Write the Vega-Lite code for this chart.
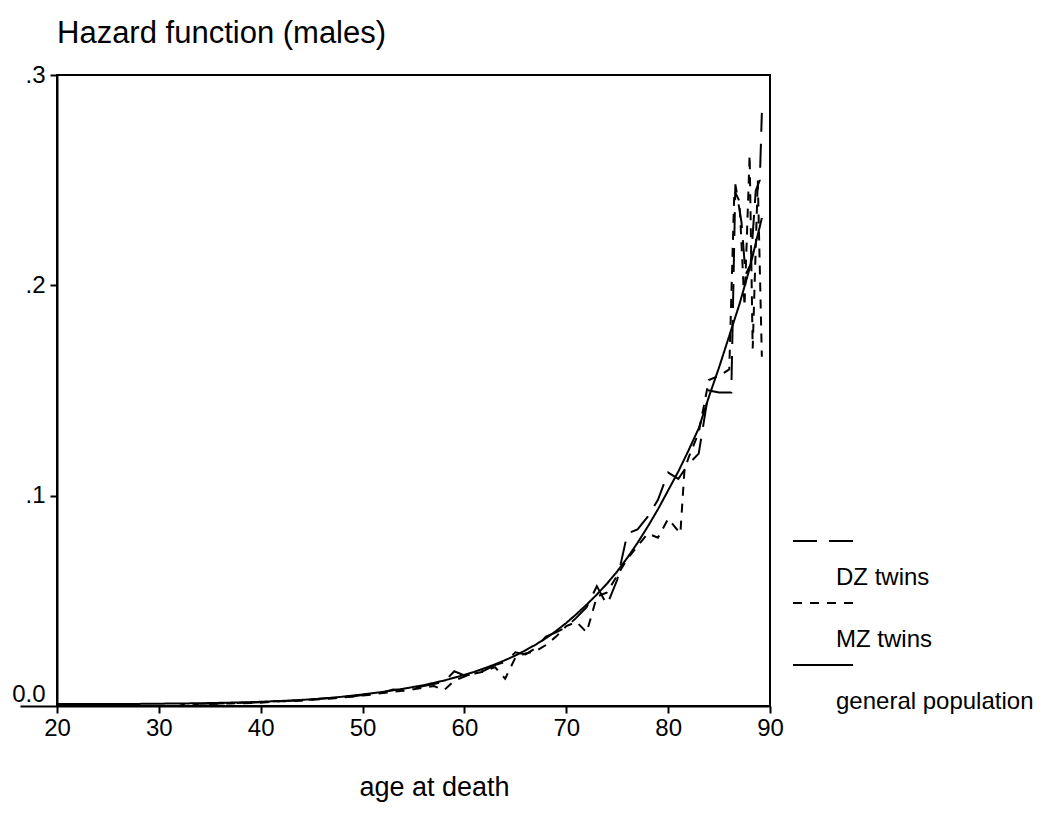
{
  "$schema": "https://vega.github.io/schema/vega-lite/v6.json",
  "width": 713,
  "height": 631,
  "autosize": {"type": "none"},
  "padding": {"left": 57, "top": 75, "right": 276, "bottom": 122},
  "background": "white",
  "title": {"text": "Hazard function (males)", "anchor": "start", "frame": "group", "font": "Liberation Sans", "fontSize": 31, "fontWeight": "normal", "color": "black", "offset": 13},
  "config": {
    "view": {"stroke": "black", "strokeWidth": 2},
    "axis": {"domainColor": "black", "domainWidth": 2, "tickColor": "black", "tickWidth": 2, "labelColor": "black", "labelFont": "Liberation Sans", "labelFontSize": 24, "titleFont": "Liberation Sans", "titleFontWeight": "normal", "titleColor": "black", "grid": false}
  },
  "data": {"values": [
    {"series":"general population","age":20,"h":0.0009},{"series":"general population","age":22,"h":0.0009},{"series":"general population","age":24,"h":0.0009},{"series":"general population","age":26,"h":0.0009},{"series":"general population","age":28,"h":0.0010},{"series":"general population","age":30,"h":0.0011},{"series":"general population","age":32,"h":0.0012},{"series":"general population","age":34,"h":0.0013},{"series":"general population","age":36,"h":0.0015},{"series":"general population","age":38,"h":0.0017},{"series":"general population","age":40,"h":0.0020},{"series":"general population","age":42,"h":0.0024},{"series":"general population","age":44,"h":0.0029},{"series":"general population","age":46,"h":0.0035},{"series":"general population","age":48,"h":0.0044},{"series":"general population","age":50,"h":0.0055},{"series":"general population","age":52,"h":0.0067},{"series":"general population","age":54,"h":0.0082},{"series":"general population","age":56,"h":0.0099},{"series":"general population","age":58,"h":0.0121},{"series":"general population","age":60,"h":0.0148},{"series":"general population","age":61,"h":0.0163},{"series":"general population","age":62,"h":0.0180},{"series":"general population","age":63,"h":0.0198},{"series":"general population","age":64,"h":0.0218},{"series":"general population","age":65,"h":0.0240},{"series":"general population","age":66,"h":0.0265},{"series":"general population","age":67,"h":0.0292},{"series":"general population","age":68,"h":0.0322},{"series":"general population","age":69,"h":0.0357},{"series":"general population","age":70,"h":0.0395},{"series":"general population","age":71,"h":0.0437},{"series":"general population","age":72,"h":0.0482},{"series":"general population","age":73,"h":0.0530},{"series":"general population","age":74,"h":0.0582},{"series":"general population","age":75,"h":0.0640},{"series":"general population","age":76,"h":0.0705},{"series":"general population","age":77,"h":0.0776},{"series":"general population","age":78,"h":0.0853},{"series":"general population","age":79,"h":0.0935},{"series":"general population","age":80,"h":0.1025},{"series":"general population","age":81,"h":0.1115},{"series":"general population","age":82,"h":0.1215},{"series":"general population","age":83,"h":0.1320},{"series":"general population","age":84,"h":0.1470},{"series":"general population","age":85,"h":0.1610},{"series":"general population","age":86,"h":0.1760},{"series":"general population","age":87,"h":0.1910},{"series":"general population","age":88,"h":0.2080},{"series":"general population","age":89.2,"h":0.2320},

    {"series":"DZ twins","age":20,"h":0},{"series":"DZ twins","age":33,"h":0},{"series":"DZ twins","age":34,"h":0.0010},{"series":"DZ twins","age":35,"h":0.0012},{"series":"DZ twins","age":36,"h":0.0012},{"series":"DZ twins","age":37,"h":0.0014},{"series":"DZ twins","age":38,"h":0.0015},{"series":"DZ twins","age":39,"h":0.0016},{"series":"DZ twins","age":40,"h":0.0018},{"series":"DZ twins","age":41,"h":0.0022},{"series":"DZ twins","age":42,"h":0.0024},{"series":"DZ twins","age":43,"h":0.0025},{"series":"DZ twins","age":44,"h":0.0028},{"series":"DZ twins","age":45,"h":0.0031},{"series":"DZ twins","age":46,"h":0.0036},{"series":"DZ twins","age":47,"h":0.0038},{"series":"DZ twins","age":48,"h":0.0042},{"series":"DZ twins","age":49,"h":0.0045},{"series":"DZ twins","age":50,"h":0.0052},{"series":"DZ twins","age":51,"h":0.0060},{"series":"DZ twins","age":52,"h":0.0064},{"series":"DZ twins","age":53,"h":0.0078},{"series":"DZ twins","age":54,"h":0.0075},{"series":"DZ twins","age":55,"h":0.0085},{"series":"DZ twins","age":56,"h":0.0095},{"series":"DZ twins","age":57,"h":0.0105},{"series":"DZ twins","age":58,"h":0.0115},{"series":"DZ twins","age":59,"h":0.0165},{"series":"DZ twins","age":60,"h":0.0145},{"series":"DZ twins","age":61,"h":0.0150},{"series":"DZ twins","age":62,"h":0.0170},{"series":"DZ twins","age":63,"h":0.0195},{"series":"DZ twins","age":64,"h":0.0210},{"series":"DZ twins","age":65,"h":0.0255},{"series":"DZ twins","age":66,"h":0.0245},{"series":"DZ twins","age":67,"h":0.0275},{"series":"DZ twins","age":68,"h":0.0330},{"series":"DZ twins","age":69,"h":0.0350},{"series":"DZ twins","age":70,"h":0.0375},{"series":"DZ twins","age":71,"h":0.0420},{"series":"DZ twins","age":72,"h":0.0470},{"series":"DZ twins","age":73,"h":0.0570},{"series":"DZ twins","age":74,"h":0.0480},{"series":"DZ twins","age":75,"h":0.0600},{"series":"DZ twins","age":76,"h":0.0820},{"series":"DZ twins","age":77,"h":0.0840},{"series":"DZ twins","age":78,"h":0.0900},{"series":"DZ twins","age":79,"h":0.0980},{"series":"DZ twins","age":80,"h":0.1110},{"series":"DZ twins","age":81,"h":0.1080},{"series":"DZ twins","age":82,"h":0.1150},{"series":"DZ twins","age":83,"h":0.1200},{"series":"DZ twins","age":84,"h":0.1500},{"series":"DZ twins","age":85,"h":0.1490},{"series":"DZ twins","age":86.2,"h":0.1490},{"series":"DZ twins","age":86.6,"h":0.2480},{"series":"DZ twins","age":87.2,"h":0.2300},{"series":"DZ twins","age":87.6,"h":0.2050},{"series":"DZ twins","age":88.1,"h":0.2100},{"series":"DZ twins","age":88.6,"h":0.2450},{"series":"DZ twins","age":89,"h":0.2500},{"series":"DZ twins","age":89.2,"h":0.2820},

    {"series":"MZ twins","age":20,"h":0},{"series":"MZ twins","age":32,"h":0},{"series":"MZ twins","age":33,"h":0.0015},{"series":"MZ twins","age":34,"h":0.0003},{"series":"MZ twins","age":35,"h":0.0010},{"series":"MZ twins","age":36,"h":0.0011},{"series":"MZ twins","age":37,"h":0.0012},{"series":"MZ twins","age":38,"h":0.0013},{"series":"MZ twins","age":39,"h":0.0014},{"series":"MZ twins","age":40,"h":0.0015},{"series":"MZ twins","age":41,"h":0.0020},{"series":"MZ twins","age":42,"h":0.0022},{"series":"MZ twins","age":43,"h":0.0024},{"series":"MZ twins","age":44,"h":0.0025},{"series":"MZ twins","age":45,"h":0.0030},{"series":"MZ twins","age":46,"h":0.0032},{"series":"MZ twins","age":47,"h":0.0036},{"series":"MZ twins","age":48,"h":0.0040},{"series":"MZ twins","age":49,"h":0.0045},{"series":"MZ twins","age":50,"h":0.0050},{"series":"MZ twins","age":51,"h":0.0055},{"series":"MZ twins","age":52,"h":0.0062},{"series":"MZ twins","age":53,"h":0.0068},{"series":"MZ twins","age":54,"h":0.0072},{"series":"MZ twins","age":55,"h":0.0080},{"series":"MZ twins","age":56,"h":0.0088},{"series":"MZ twins","age":57,"h":0.0095},{"series":"MZ twins","age":58,"h":0.0075},{"series":"MZ twins","age":59,"h":0.0120},{"series":"MZ twins","age":60,"h":0.0140},{"series":"MZ twins","age":61,"h":0.0155},{"series":"MZ twins","age":62,"h":0.0165},{"series":"MZ twins","age":63,"h":0.0185},{"series":"MZ twins","age":64,"h":0.0130},{"series":"MZ twins","age":65,"h":0.0230},{"series":"MZ twins","age":66,"h":0.0250},{"series":"MZ twins","age":67,"h":0.0260},{"series":"MZ twins","age":68,"h":0.0290},{"series":"MZ twins","age":69,"h":0.0330},{"series":"MZ twins","age":70,"h":0.0380},{"series":"MZ twins","age":71,"h":0.0400},{"series":"MZ twins","age":72,"h":0.0350},{"series":"MZ twins","age":73,"h":0.0520},{"series":"MZ twins","age":74,"h":0.0540},{"series":"MZ twins","age":75,"h":0.0620},{"series":"MZ twins","age":76,"h":0.0700},{"series":"MZ twins","age":77,"h":0.0760},{"series":"MZ twins","age":78,"h":0.0820},{"series":"MZ twins","age":79,"h":0.0800},{"series":"MZ twins","age":80,"h":0.0890},{"series":"MZ twins","age":81.2,"h":0.0820},{"series":"MZ twins","age":81.6,"h":0.1120},{"series":"MZ twins","age":82,"h":0.1180},{"series":"MZ twins","age":83,"h":0.1300},{"series":"MZ twins","age":84,"h":0.1550},{"series":"MZ twins","age":85,"h":0.1570},{"series":"MZ twins","age":86,"h":0.1600},{"series":"MZ twins","age":86.5,"h":0.2450},{"series":"MZ twins","age":87,"h":0.2400},{"series":"MZ twins","age":87.5,"h":0.1900},{"series":"MZ twins","age":88,"h":0.2620},{"series":"MZ twins","age":88.3,"h":0.1700},{"series":"MZ twins","age":88.8,"h":0.2500},{"series":"MZ twins","age":89.2,"h":0.1660}
  ]},
  "mark": {"type": "line", "color": "black", "strokeWidth": 2, "clip": true},
  "encoding": {
    "x": {"field": "age", "type": "quantitative", "scale": {"domain": [20, 90], "nice": false, "zero": false},
      "axis": {"values": [20, 30, 40, 50, 60, 70, 80, 90], "title": "age at death", "titleFontSize": 27, "titlePadding": 34, "titleX": 377, "tickSize": 7, "labelPadding": 3, "labelFlush": false, "format": "d"}},
    "y": {"field": "h", "type": "quantitative", "scale": {"domain": [0, 0.3], "nice": false},
      "axis": {"values": [0, 0.1, 0.2, 0.3], "title": null, "labelFlush": false, "labelExpr": "datum.value == 0 ? '0.0' : replace(format(datum.value, '.1f'), '0.', '.')", "tickSize": {"condition": {"test": "datum.value == 0", "value": 37}, "value": 7}, "labelBaseline": {"condition": {"test": "datum.value == 0", "value": "bottom"}, "value": "middle"}, "labelPadding": {"condition": {"test": "datum.value == 0", "value": -25}, "value": 5}}},
    "strokeDash": {"field": "series", "type": "nominal",
      "scale": {"domain": ["DZ twins", "MZ twins", "general population"], "range": [[24, 12], [9, 8], [1, 0]]},
      "legend": {"title": null, "orient": "none", "legendX": 735, "legendY": 472, "symbolType": "M-1,-1.233H1", "symbolSize": 3600, "symbolStrokeWidth": 2, "symbolStrokeColor": "black", "symbolFillColor": "transparent", "labelFont": "Liberation Sans", "labelFontSize": 24, "labelColor": "black", "labelBaseline": "middle", "labelOffset": -18, "labelLimit": 300, "rowPadding": 9}},
    "detail": {"field": "series"}
  }
}
